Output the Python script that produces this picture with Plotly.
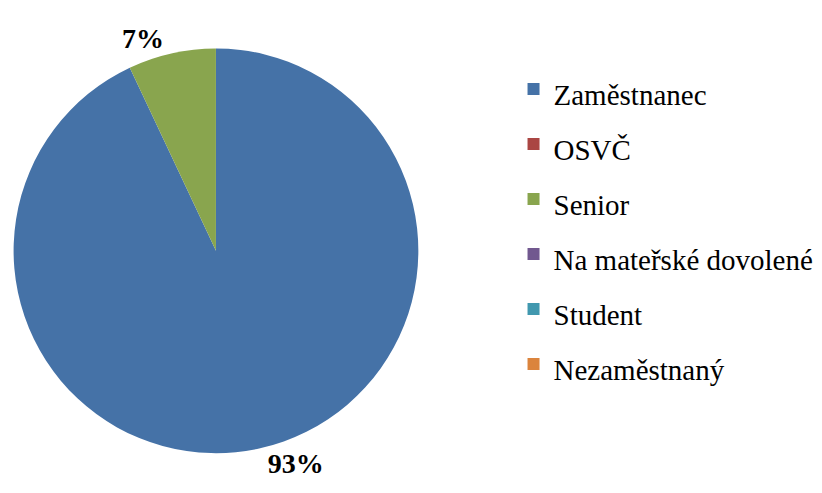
import plotly.graph_objects as go

categories = ["Zaměstnanec", "OSVČ", "Senior", "Na mateřské dovolené", "Student", "Nezaměstnaný"]
shares = [93, 0, 7, 0, 0, 0]
colors = ["#4572A7", "#AA4643", "#89A54E", "#71588F", "#4198AF", "#DB843D"]

SERIF = "Times New Roman, Liberation Serif, serif"

# only non-zero slices get an outside label
slice_text = [f"{v}%" if v > 0 else "" for v in shares]

# legend labels drawn smaller than the legend font so the items get wide spacing
legend_labels = [f"<span style='font-size:29px'>{c}</span>" for c in categories]

fig = go.Figure(
    go.Pie(
        labels=legend_labels,
        values=shares,
        text=slice_text,
        textinfo="text",
        textposition="outside",
        textfont=dict(family=SERIF, size=28, color="black", weight="bold"),
        marker=dict(colors=colors, line=dict(width=0)),
        sort=False,
        direction="clockwise",
        rotation=0,
        hoverinfo="skip",
        domain=dict(x=[0.006, 0.5], y=[0.097, 0.918]),
    )
)

fig.update_layout(
    width=822,
    height=493,
    margin=dict(l=0, r=0, t=0, b=0),
    paper_bgcolor="white",
    plot_bgcolor="white",
    font=dict(family=SERIF),
    showlegend=True,
    legend=dict(
        x=0.615,
        xanchor="left",
        y=0.557,
        yanchor="middle",
        font=dict(family=SERIF, size=40, color="black"),
        bgcolor="rgba(0,0,0,0)",
        itemclick=False,
    ),
)

fig.write_html("out.html")
